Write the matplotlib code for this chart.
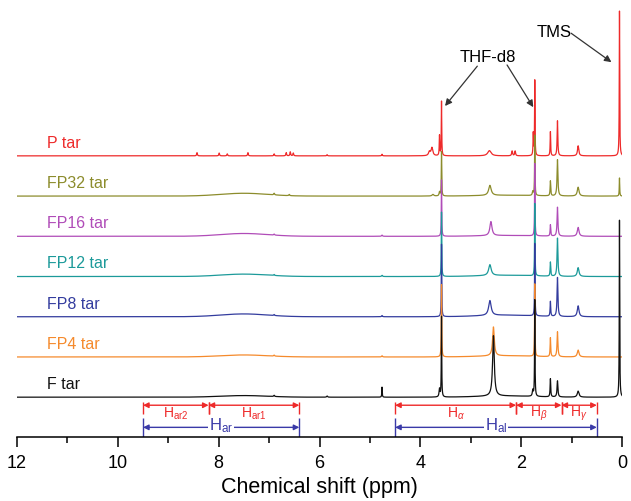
import matplotlib
matplotlib.use("Agg")
import matplotlib.pyplot as plt
import numpy as np

plt.rcParams['font.family'] = ['Liberation Sans', 'DejaVu Sans']
plt.rcParams['mathtext.fontset'] = 'custom'
plt.rcParams['mathtext.rm'] = 'Liberation Sans'
plt.rcParams['mathtext.it'] = 'Liberation Sans:italic'

# Samples, bottom to top
samples = ['F tar', 'FP4 tar', 'FP8 tar', 'FP12 tar', 'FP16 tar', 'FP32 tar', 'P tar']
colors = ['#111111', '#f58a2c', '#333c9e', '#1c9a9a', '#b04cb8', '#8c8c2c', '#ee2a2a']

# Peak tables: (shift ppm, height, half width ppm)
peaks_F = [(0.05, 4.4, 0.005), (0.87, 0.15, 0.02), (1.28, 0.40, 0.01), (1.42, 0.45, 0.007),
           (1.73, 2.4, 0.005), (1.77, 0.15, 0.01), (2.55, 1.5, 0.02), (3.58, 2.0, 0.005),
           (3.62, 0.2, 0.01), (4.76, 0.25, 0.005), (5.85, 0.03, 0.01), (6.90, 0.03, 0.01),
           (7.5, 0.04, 0.7), (2.3, 0.03, 0.8)]
peaks_FP4 = [(0.87, 0.17, 0.02), (1.28, 0.62, 0.01), (1.42, 0.47, 0.007), (1.73, 1.8, 0.005),
             (2.55, 0.72, 0.02), (3.58, 1.8, 0.005), (4.76, 0.03, 0.01), (6.90, 0.025, 0.01),
             (7.5, 0.05, 0.7), (2.3, 0.03, 0.8)]
peaks_FP8 = [(0.87, 0.27, 0.02), (1.28, 0.97, 0.01), (1.42, 0.37, 0.007), (1.73, 1.8, 0.005),
             (2.62, 0.37, 0.03), (3.58, 1.8, 0.005), (4.76, 0.03, 0.01), (6.90, 0.025, 0.01),
             (7.5, 0.07, 0.7), (2.3, 0.04, 0.8)]
peaks_FP12 = [(0.87, 0.22, 0.02), (1.28, 0.95, 0.01), (1.42, 0.35, 0.007), (1.73, 1.8, 0.005),
              (2.62, 0.27, 0.03), (3.58, 1.6, 0.005), (4.76, 0.03, 0.01), (6.90, 0.025, 0.01),
              (7.5, 0.06, 0.7), (2.3, 0.03, 0.8)]
peaks_FP16 = [(0.87, 0.22, 0.02), (1.28, 0.72, 0.01), (1.42, 0.28, 0.007), (1.73, 1.8, 0.005),
              (2.60, 0.35, 0.025), (3.58, 1.4, 0.005), (4.76, 0.03, 0.01), (6.90, 0.025, 0.01),
              (7.5, 0.07, 0.7), (2.3, 0.02, 0.8)]
peaks_FP32 = [(0.05, 0.45, 0.005), (0.87, 0.22, 0.02), (1.28, 0.90, 0.01), (1.42, 0.37, 0.007),
              (1.73, 1.5, 0.005), (1.77, 0.1, 0.01), (2.62, 0.25, 0.03), (3.58, 1.1, 0.005),
              (3.62, 0.1, 0.01), (3.75, 0.04, 0.02), (6.90, 0.04, 0.01), (6.60, 0.03, 0.01),
              (7.5, 0.07, 0.7), (2.3, 0.02, 0.8)]
peaks_P = [(0.05, 3.6, 0.005), (0.87, 0.25, 0.015), (1.28, 0.87, 0.008), (1.42, 0.6, 0.006),
           (1.73, 1.87, 0.005), (1.76, 0.55, 0.006), (2.12, 0.12, 0.01), (2.18, 0.12, 0.01),
           (2.63, 0.13, 0.04), (3.58, 1.35, 0.005), (3.62, 0.5, 0.006), (3.77, 0.2, 0.02),
           (3.82, 0.1, 0.02), (8.43, 0.08, 0.008), (7.99, 0.07, 0.008), (7.83, 0.05, 0.008),
           (7.42, 0.08, 0.008), (6.90, 0.05, 0.008), (6.66, 0.08, 0.008), (6.58, 0.1, 0.008),
           (6.52, 0.07, 0.008), (5.85, 0.03, 0.008), (4.76, 0.04, 0.008)]
peak_tables = [peaks_F, peaks_FP4, peaks_FP8, peaks_FP12, peaks_FP16, peaks_FP32, peaks_P]

# Integration regions: (label, start ppm, end ppm)
red_regions = [(r'H$_{\mathrm{ar2}}$', 9.5, 8.2), (r'H$_{\mathrm{ar1}}$', 8.2, 6.4),
               (r'H$_{\alpha}$', 4.5, 2.1), (r'H$_{\beta}$', 2.1, 1.2), (r'H$_{\gamma}$', 1.2, 0.5)]
blue_regions = [(r'H$_{\mathrm{ar}}$', 9.5, 6.4), (r'H$_{\mathrm{al}}$', 4.5, 0.5)]
red = '#ee2a2a'
blue = '#3a3aa8'

ppm = np.linspace(12, 0, 24001)

fig = plt.figure(figsize=(6.31, 5.02), dpi=100)
ax = fig.add_axes([17 / 631, 64 / 502, 605 / 631, 438 / 502])

for i, (name, col, table) in enumerate(zip(samples, colors, peak_tables)):
    y = np.zeros_like(ppm)
    for x0, h, w in table:
        if w > 0.3:
            y += h * np.exp(-0.5 * ((ppm - x0) / (w / 1.5)) ** 2)
        else:
            y += h / (1 + ((ppm - x0) / w) ** 2)
    ax.plot(ppm, y + i, color=col, lw=0.9, zorder=10 - i)
    ax.text(11.4, i + 0.15, name, color=col, fontsize=11.5, ha='left', va='bottom')

# region brackets
for lab, a, b in red_regions:
    ax.vlines([a, b], -0.42, -0.12, color=red, lw=1.0)
    ax.annotate('', xy=(b, -0.2), xytext=(a, -0.2),
                arrowprops=dict(arrowstyle='<|-|>', color=red, lw=1.0,
                                mutation_scale=8, shrinkA=0, shrinkB=0))
    ax.text((a + b) / 2, -0.38, lab, color=red, fontsize=10, ha='center', va='center')
for lab, a, b in blue_regions:
    ax.vlines([a, b], -0.99, -0.52, color=blue, lw=1.0)
    ax.annotate('', xy=(b, -0.75), xytext=(a, -0.75),
                arrowprops=dict(arrowstyle='<|-|>', color=blue, lw=1.0,
                                mutation_scale=8, shrinkA=0, shrinkB=0))
    ax.text((a + b) / 2, -0.69, lab, color=blue, fontsize=12, ha='center', va='center',
            bbox=dict(facecolor='white', edgecolor='none', pad=0.5))

# solvent / reference labels
arrow_kw = dict(arrowstyle='-|>', color='#333333', lw=0.9, mutation_scale=10,
                shrinkA=0, shrinkB=0)
ax.text(2.67, 8.48, 'THF-d8', fontsize=12, ha='center', va='center')
ax.annotate('', xy=(3.51, 7.24), xytext=(2.87, 8.23), arrowprops=arrow_kw)
ax.annotate('', xy=(1.76, 7.21), xytext=(2.28, 8.26), arrowprops=arrow_kw)
ax.text(1.35, 9.08, 'TMS', fontsize=12, ha='center', va='center')
ax.annotate('', xy=(0.21, 8.33), xytext=(1.01, 9.05), arrowprops=arrow_kw)

ax.set_xlim(12, 0)
ax.set_ylim(-0.99, 9.9)
ax.set_xticks(np.arange(0, 13, 2))
ax.set_xticks(np.arange(1, 12, 2), minor=True)
ax.tick_params(axis='x', which='major', direction='out', length=7, width=1.1, labelsize=13, pad=5)
ax.tick_params(axis='x', which='minor', direction='out', length=4, width=1.1)
ax.set_yticks([])
for s in ['left', 'right', 'top']:
    ax.spines[s].set_visible(False)
ax.spines['bottom'].set_linewidth(1.1)
ax.set_xlabel('Chemical shift (ppm)', fontsize=15.5, labelpad=4)
ax.patch.set_alpha(0)

fig.savefig('out.png', dpi=100)
